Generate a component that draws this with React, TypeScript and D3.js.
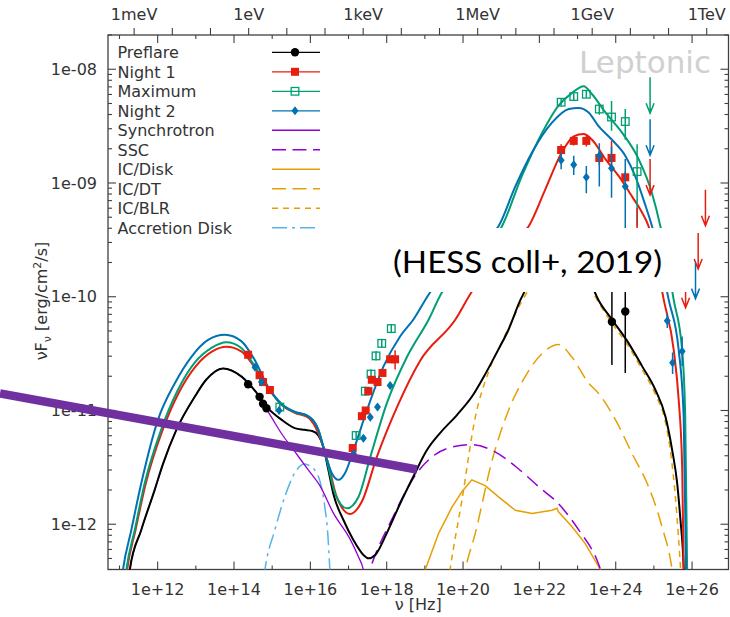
import React, { useEffect, useRef } from 'react'
import * as d3 from 'd3'

// model curves, [log10 nu (Hz), log10 nuFnu (erg/cm2/s)]
const preflareModel: [number, number][] = [
  [11.15, -12.8], [11.27, -12.4], [11.57, -12.05], [11.92, -11.7], [12.14, -11.47], [12.49, -11.17],
  [12.97, -10.88], [13.27, -10.73], [13.71, -10.63], [14.19, -10.7], [14.63, -10.86], [14.89, -10.98],
  [15.24, -11.08], [15.59, -11.155], [15.85, -11.17], [16.05, -11.18], [16.21, -11.22], [16.34, -11.32],
  [16.47, -11.52], [16.6, -11.73], [16.87, -11.965], [17.13, -12.14], [17.39, -12.27], [17.52, -12.3],
  [17.7, -12.27], [18.0, -12.08], [18.35, -11.82], [18.7, -11.58], [19.05, -11.35], [19.42, -11.19],
  [19.84, -11.04], [20.27, -10.86], [20.55, -10.7], [20.9, -10.48], [21.19, -10.29], [21.5, -10.03],
  [21.9, -9.8], [22.4, -9.66], [22.9, -9.7], [23.3, -9.85], [23.55, -10.03], [23.9, -10.2],
  [24.34, -10.41], [24.69, -10.61], [25.04, -10.82], [25.3, -11.05], [25.48, -11.35], [25.61, -11.64],
  [25.69, -11.94], [25.78, -12.38], [25.82, -12.8],
]
const night1Model: [number, number][] = [
  [11.07, -12.8], [11.2, -12.4], [11.42, -12.05], [11.69, -11.64], [12.12, -11.18], [12.56, -10.84],
  [13.0, -10.61], [13.43, -10.48], [13.8, -10.44], [14.19, -10.48], [14.54, -10.62], [14.89, -10.8],
  [15.24, -10.95], [15.59, -11.02], [15.94, -11.06], [16.21, -11.2], [16.47, -11.47], [16.69, -11.76],
  [17.04, -11.91], [17.35, -11.8], [17.74, -11.41], [18.27, -10.97], [18.88, -10.56], [19.8, -10.2],
  [20.22, -9.96], [20.8, -9.7], [21.4, -9.5], [21.72, -9.38], [22.15, -9.06], [22.59, -8.73],
  [22.9, -8.59], [23.16, -8.57], [23.38, -8.62], [23.73, -8.79], [24.08, -8.94], [24.43, -9.12],
  [24.69, -9.26], [24.86, -9.38], [25.26, -10.03], [25.52, -10.47], [25.65, -10.91], [25.74, -11.49],
  [25.78, -12.4], [25.8, -12.8],
]
const maximumModel: [number, number][] = [
  [11.05, -12.8], [11.18, -12.4], [11.4, -12.05], [11.66, -11.64], [12.09, -11.17], [12.53, -10.82],
  [12.97, -10.58], [13.41, -10.45], [13.8, -10.4], [14.19, -10.45], [14.54, -10.61], [14.89, -10.8],
  [15.24, -10.945], [15.59, -11.015], [15.94, -11.05], [16.21, -11.17], [16.43, -11.44], [16.65, -11.73],
  [16.96, -11.86], [17.26, -11.76], [17.57, -11.41], [18.0, -10.94], [18.53, -10.53], [19.1, -10.2],
  [19.45, -9.96], [19.9, -9.8], [20.5, -9.6], [21.02, -9.38], [21.54, -8.94], [22.07, -8.56],
  [22.5, -8.32], [22.85, -8.21], [23.16, -8.15], [23.38, -8.22], [23.73, -8.38], [24.17, -8.56],
  [24.6, -8.79], [24.95, -9.09], [25.17, -9.38], [25.52, -10.03], [25.74, -10.47], [25.82, -11.05],
  [25.87, -12.4], [25.89, -12.8],
]
const night2Model: [number, number][] = [
  [10.95, -12.8], [11.09, -12.4], [11.31, -12.05], [11.57, -11.64], [12.01, -11.08], [12.45, -10.76],
  [12.88, -10.53], [13.32, -10.38], [13.76, -10.335], [14.19, -10.39], [14.54, -10.555], [14.89, -10.79],
  [15.24, -10.94], [15.59, -11.01], [15.94, -11.05], [16.21, -11.17], [16.39, -11.38], [16.56, -11.55],
  [16.74, -11.61], [16.91, -11.55], [17.13, -11.35], [17.48, -11.0], [17.92, -10.61], [18.35, -10.35],
  [18.7, -10.2], [19.1, -9.98], [19.6, -9.75], [20.3, -9.55], [20.93, -9.38], [21.37, -9.03],
  [21.81, -8.73], [22.33, -8.47], [22.77, -8.35], [23.03, -8.34], [23.29, -8.38], [23.55, -8.5],
  [23.9, -8.62], [24.25, -8.76], [24.51, -8.94], [24.78, -9.2], [24.95, -9.38], [25.39, -10.03],
  [25.65, -10.47], [25.78, -11.05], [25.84, -12.4], [25.86, -12.8],
]
const synchrotron: [number, number][] = [
  [11.15, -12.8], [11.27, -12.4], [11.57, -12.05], [11.92, -11.7], [12.14, -11.47], [12.49, -11.17],
  [12.97, -10.88], [13.27, -10.73], [13.71, -10.63], [14.19, -10.7], [14.63, -10.865], [14.8, -10.96],
  [15.0, -11.07], [15.24, -11.2], [15.59, -11.36], [15.94, -11.52], [16.25, -11.66], [16.6, -11.9],
  [17.04, -12.13], [17.25, -12.28], [17.4, -12.42], [17.5, -12.7],
]
const ssc: [number, number][] = [
  [17.3, -12.7], [17.58, -12.38], [18.13, -11.96], [18.79, -11.55], [19.18, -11.41], [19.62, -11.33],
  [20.23, -11.3], [20.76, -11.35], [21.37, -11.49], [21.98, -11.67], [22.5, -11.82], [23.03, -12.05],
  [23.55, -12.35], [23.7, -12.5],
]
const icDisk: [number, number][] = [
  [18.9, -12.6], [19.01, -12.4], [19.36, -12.08], [19.71, -11.85], [19.97, -11.715], [20.23, -11.61],
  [20.58, -11.66], [20.93, -11.76], [21.37, -11.877], [21.81, -11.905], [22.33, -11.877], [22.46, -11.86],
  [22.5, -11.89], [22.85, -12.02], [23.2, -12.17], [23.6, -12.4], [23.7, -12.6],
]
const icDT: [number, number][] = [
  [19.9, -12.7], [20.06, -12.4], [20.32, -12.08], [20.76, -11.44], [21.19, -11.0], [21.63, -10.7],
  [22.07, -10.5], [22.5, -10.42], [22.85, -10.53], [23.29, -10.76], [23.55, -10.85], [23.99, -11.08],
  [24.43, -11.38], [24.86, -11.67], [25.21, -12.02], [25.48, -12.41], [25.55, -12.6],
]
const icBLR: [number, number][] = [
  [19.5, -12.8], [19.66, -12.4], [19.97, -11.79], [20.32, -11.06], [20.67, -10.66], [21.0, -10.41],
  [21.3, -10.2], [21.54, -10.04], [22.0, -9.82], [22.5, -9.72], [23.0, -9.8], [23.35, -9.93],
  [23.55, -10.05], [23.9, -10.23], [24.34, -10.44], [24.69, -10.64], [25.04, -10.86], [25.3, -11.1],
  [25.45, -11.4], [25.56, -11.75], [25.64, -12.1], [25.72, -12.5],
]
const accretionDisk: [number, number][] = [
  [14.7, -12.7], [14.81, -12.4], [15.07, -12.05], [15.33, -11.76], [15.59, -11.55], [15.85, -11.47],
  [16.0, -11.49], [16.13, -11.53], [16.25, -11.62], [16.38, -11.85], [16.46, -12.1], [16.51, -12.4],
  [16.54, -12.6],
]

// data points, [log10 nu, log10 nuFnu, error down, error up] in decades
const preflareData: number[][] = [
  [14.37, -10.77, 0.02, 0.02], [14.67, -10.88, 0.02, 0.02], [14.76, -10.94, 0.02, 0.02], [14.85, -10.98, 0.02, 0.02],
  [23.9, -10.22, 0.38, 0.4], [24.25, -10.13, 0.54, 0.4],
]
const night1Data: number[][] = [
  [14.37, -10.51, 0.03, 0.03], [14.67, -10.69, 0.03, 0.03], [14.76, -10.75, 0.03, 0.03], [14.94, -10.82, 0.03, 0.03],
  [17.11, -11.33, 0.03, 0.03], [17.35, -11.05, 0.03, 0.03], [17.45, -11.0, 0.03, 0.03], [17.52, -10.83, 0.03, 0.03],
  [17.61, -10.73, 0.03, 0.03], [17.76, -10.75, 0.03, 0.03], [17.89, -10.67, 0.03, 0.03], [18.09, -10.55, 0.03, 0.03],
  [18.22, -10.55, 0.09, 0.08],
  [22.57, -8.71, 0.05, 0.05], [22.9, -8.63, 0.04, 0.04], [23.23, -8.63, 0.05, 0.05], [23.57, -8.78, 0.06, 0.06],
  [23.89, -8.78, 0.06, 0.15], [24.25, -8.95, 0.05, 0.05],
]
const maximumData: number[][] = [
  [15.2, -10.97, 0.03, 0.03],
  [17.2, -11.22, 0.04, 0.04], [17.44, -10.83, 0.04, 0.04], [17.59, -10.68, 0.04, 0.04], [17.72, -10.52, 0.04, 0.04],
  [17.87, -10.41, 0.04, 0.04], [18.12, -10.28, 0.04, 0.04],
  [22.57, -8.29, 0.03, 0.03], [22.9, -8.24, 0.03, 0.03], [23.23, -8.22, 0.03, 0.03], [23.57, -8.35, 0.05, 0.05],
  [23.89, -8.42, 0.12, 0.14], [24.25, -8.46, 0.16, 0.11], [24.56, -8.9, 0.48, 0.24],
]
const night2Data: number[][] = [
  [14.55, -10.62, 0.03, 0.03], [14.72, -10.75, 0.03, 0.03], [15.18, -11.0, 0.03, 0.03],
  [17.13, -11.38, 0.03, 0.03], [17.39, -11.245, 0.03, 0.03], [17.57, -11.06, 0.03, 0.03], [17.76, -10.97, 0.03, 0.03],
  [18.09, -10.78, 0.03, 0.03],
  [22.57, -8.8, 0.08, 0.07], [22.9, -8.84, 0.09, 0.08], [23.23, -8.95, 0.14, 0.1], [23.57, -8.76, 0.27, 0.11],
  [23.89, -8.87, 0.26, 0.19], [24.25, -9.03, 0.5, 0.24],
  [25.35, -10.21, 0.065, 0.065], [25.49, -10.58, 0.1, 0.09], [25.74, -10.48, 0.13, 0.13],
]

// upper limits, [log10 nu, log10 nuFnu]
const night1Limits: number[][] = [[24.56, -9.22], [24.9, -8.79], [25.83, -9.78], [26.16, -9.44], [26.35, -9.06]]
const maximumLimits: number[][] = [[24.9, -8.07]]
const night2Limits: number[][] = [[24.9, -8.44], [26.09, -9.7]]

const energyLabels = ['1meV', '1eV', '1keV', '1MeV', '1GeV', '1TeV']
const legendNames = ['Preflare', 'Night 1', 'Maximum', 'Night 2', 'Synchrotron', 'SSC', 'IC/Disk', 'IC/DT', 'IC/BLR', 'Accretion Disk']

const BLACK = '#000000'
const RED = '#e51e10'
const GREEN = '#009e73'
const BLUE = '#0072b2'
const PURPLE = '#9400d3'
const ORANGE = '#e69f00'
const LIGHTBLUE = '#56b4e9'
const AXIS = '#404040'
const TEXT = '#333333'
const FONT = 'DejaVu Sans, sans-serif'
const FS = 16

const App = () => {
  const ref = useRef<SVGSVGElement>(null)

  useEffect(() => {
    const left = 108, right = 728.5, top = 35, bottom = 569.5
    const x = d3.scaleLog().domain([5e10, 9e26]).range([left, right])
    const y = d3.scaleLog().domain([4e-13, 2e-8]).range([bottom, top])
    const px = (d: number[]) => x(10 ** d[0])
    const py = (d: number[]) => y(10 ** d[1])

    const svg = d3.select(ref.current)
    svg.selectAll('*').remove()

    svg.append('defs').append('clipPath').attr('id', 'plot')
      .append('rect').attr('x', left).attr('y', top).attr('width', right - left).attr('height', bottom - top)

    // frame
    svg.append('rect').attr('x', left).attr('y', top).attr('width', right - left).attr('height', bottom - top)
      .attr('fill', 'none').attr('stroke', AXIS).attr('stroke-width', 1.3)

    const ticks = svg.append('g').attr('stroke', AXIS).attr('stroke-width', 1.1)

    // x ticks (bottom and mirrored at top), inward
    for (let k = 11; k <= 26; k++) {
      const xx = x(10 ** k)
      const len = k % 2 === 0 ? 8 : 4
      ticks.append('line').attr('x1', xx).attr('x2', xx).attr('y1', bottom).attr('y2', bottom - len)
      ticks.append('line').attr('x1', xx).attr('x2', xx).attr('y1', top).attr('y2', top + len)
      if (k % 2 === 0) {
        svg.append('text').attr('x', xx).attr('y', 595).attr('text-anchor', 'middle')
          .attr('font-family', FONT).attr('font-size', FS).attr('fill', TEXT).text(`1e+${k}`)
      }
    }

    // top energy axis, outward
    for (let k = -3; k <= 12; k++) {
      const xx = x(2.418e14 * 10 ** k)
      ticks.append('line').attr('x1', xx).attr('x2', xx).attr('y1', top).attr('y2', top - 7)
      if ((k + 3) % 3 === 0) {
        svg.append('text').attr('x', xx).attr('y', 20).attr('text-anchor', 'middle')
          .attr('font-family', FONT).attr('font-size', FS).attr('fill', TEXT).text(energyLabels[(k + 3) / 3])
      }
    }

    // y ticks (left and mirrored right), inward
    for (let k = -13; k <= -8; k++) {
      for (let m = 1; m <= 9; m++) {
        const v = m * 10 ** k
        if (v < 4e-13 || v > 2e-8) continue
        const yy = y(v)
        const len = m === 1 ? 8 : 4
        ticks.append('line').attr('x1', left).attr('x2', left + len).attr('y1', yy).attr('y2', yy)
        ticks.append('line').attr('x1', right).attr('x2', right - len).attr('y1', yy).attr('y2', yy)
        if (m === 1) {
          svg.append('text').attr('x', 97).attr('y', yy).attr('dy', '0.36em').attr('text-anchor', 'end')
            .attr('font-family', FONT).attr('font-size', FS).attr('fill', TEXT)
            .text(`1e-${String(-k).padStart(2, '0')}`)
        }
      }
    }

    // axis titles
    const ylab = svg.append('text').attr('transform', 'translate(41,301) rotate(-90)').attr('text-anchor', 'middle')
      .attr('font-family', FONT).attr('font-size', FS).attr('fill', TEXT)
    ylab.append('tspan').attr('dy', 6).text('νF')
    ylab.append('tspan').attr('font-size', 11).attr('dy', 4).text('ν')
    ylab.append('tspan').attr('dy', -4).text(' [erg/cm')
    ylab.append('tspan').attr('font-size', 11).attr('dy', -6).text('2')
    ylab.append('tspan').attr('dy', 6).text('/s]')

    svg.append('text').attr('x', (left + right) / 2).attr('y', 610).attr('text-anchor', 'middle')
      .attr('font-family', FONT).attr('font-size', FS).attr('fill', TEXT).text('ν [Hz]')

    svg.append('text').attr('x', 711).attr('y', 73).attr('text-anchor', 'end')
      .attr('font-family', FONT).attr('font-size', 31).attr('fill', '#d0d0d0').text('Leptonic')

    // model curves
    const plot = svg.append('g').attr('clip-path', 'url(#plot)')
    const smooth = d3.line<number[]>().x(px).y(py).curve(d3.curveMonotoneX)
    const straight = d3.line<number[]>().x(px).y(py)
    const curves: [number[][], string, number, string | null, boolean][] = [
      [accretionDisk, LIGHTBLUE, 1.5, '15,5,3,5', true],
      [icDisk, ORANGE, 1.5, null, false],
      [icDT, ORANGE, 1.5, '14,7', true],
      [icBLR, ORANGE, 1.5, '6,5', true],
      [ssc, PURPLE, 1.5, '14,7', true],
      [synchrotron, PURPLE, 1.3, null, true],
      [preflareModel, BLACK, 2, null, true],
      [night1Model, RED, 2, null, true],
      [maximumModel, GREEN, 2, null, true],
      [night2Model, BLUE, 2, null, true],
    ]
    curves.forEach(([data, color, w, dash, isSmooth]) => {
      plot.append('path').attr('d', (isSmooth ? smooth : straight)(data)).attr('fill', 'none')
        .attr('stroke', color).attr('stroke-width', w).attr('stroke-dasharray', dash)
    })

    const marker = (g: any, type: string, cx: number, cy: number, color: string) => {
      if (type === 'circle') g.append('circle').attr('cx', cx).attr('cy', cy).attr('r', 4.2).attr('fill', color)
      else if (type === 'square') g.append('rect').attr('x', cx - 4).attr('y', cy - 4).attr('width', 8).attr('height', 8).attr('fill', color)
      else if (type === 'open') g.append('rect').attr('x', cx - 3.8).attr('y', cy - 3.8).attr('width', 7.6).attr('height', 7.6)
        .attr('fill', 'none').attr('stroke', color).attr('stroke-width', 1.3)
      else g.append('path').attr('d', `M${cx},${cy - 4.5}L${cx + 3.5},${cy}L${cx},${cy + 4.5}L${cx - 3.5},${cy}Z`).attr('fill', color)
    }

    // data with error bars
    const series: [number[][], number[][], string, string][] = [
      [preflareData, [], BLACK, 'circle'],
      [maximumData, maximumLimits, GREEN, 'open'],
      [night1Data, night1Limits, RED, 'square'],
      [night2Data, night2Limits, BLUE, 'diamond'],
    ]
    series.forEach(([data, limits, color, type]) => {
      const g = plot.append('g')
      data.forEach(d => {
        g.append('line').attr('x1', px(d)).attr('x2', px(d))
          .attr('y1', y(10 ** (d[1] - d[2]))).attr('y2', y(10 ** (d[1] + d[3])))
          .attr('stroke', color).attr('stroke-width', 1.5)
        marker(g, type, px(d), py(d), color)
      })
      limits.forEach(d => {
        const xx = px(d), y0 = py(d), y1 = y0 + 36
        g.append('path').attr('d', `M${xx},${y0}L${xx},${y1}M${xx - 4},${y1 - 10}L${xx},${y1}L${xx + 4},${y1 - 10}`)
          .attr('fill', 'none').attr('stroke', color).attr('stroke-width', 1.5)
      })
    })

    // legend
    const legendStyle: [string, string | null, string | null, number][] = [
      [BLACK, 'circle', null, 1.3], [RED, 'square', null, 1.3], [GREEN, 'open', null, 1.3], [BLUE, 'diamond', null, 1.3],
      [PURPLE, null, null, 1.5], [PURPLE, null, '14,6.5', 1.5], [ORANGE, null, null, 1.5], [ORANGE, null, '14,6.5', 1.5],
      [ORANGE, null, '6,5', 1.5], [LIGHTBLUE, null, '15,5,3,5', 1.5],
    ]
    const legend = svg.append('g')
    legendNames.forEach((name, i) => {
      const ly = 52.3 + i * 19.5
      const [color, type, dash, w] = legendStyle[i]
      legend.append('text').attr('x', 117.5).attr('y', ly).attr('dy', '0.36em')
        .attr('font-family', FONT).attr('font-size', FS).attr('fill', TEXT).text(name)
      legend.append('line').attr('x1', 272).attr('x2', 320).attr('y1', ly).attr('y2', ly)
        .attr('stroke', color).attr('stroke-width', w).attr('stroke-dasharray', dash)
      if (type) marker(legend, type, 295, ly, color)
    })

    // overlay annotations
    svg.append('line').attr('x1', 0).attr('y1', 393.5).attr('x2', 417).attr('y2', 469.5)
      .attr('stroke', '#7030a0').attr('stroke-width', 8.5)
    svg.append('rect').attr('x', 385).attr('y', 228).attr('width', 305).attr('height', 64).attr('fill', '#ffffff')
    svg.append('text').attr('x', 393).attr('y', 273).attr('font-family', 'Lato, Open Sans, sans-serif')
      .attr('font-size', 31).attr('fill', '#000').attr('textLength', 269).attr('lengthAdjust', 'spacingAndGlyphs')
      .text('(HESS coll+, 2019)')
  }, [])

  return (
    <svg ref={ref} width={730} height={617} style={{ position: 'absolute', left: 0, top: 0, background: '#fff' }} />
  )
}

export default App
